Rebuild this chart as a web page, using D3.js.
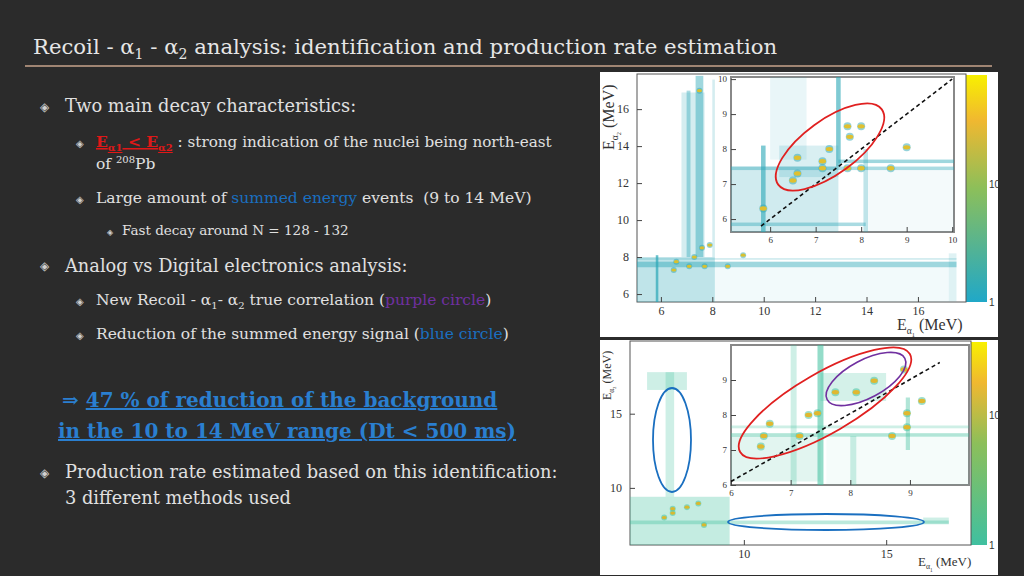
<!DOCTYPE html>
<html><head><meta charset="utf-8">
<script src="https://cdn.jsdelivr.net/npm/d3@7/dist/d3.min.js"></script>
<style>body{margin:0;background:#2a2a2a;}svg{display:block;}</style>
</head><body><svg id="c" width="1024" height="576"></svg>
<script>
// ---- data ----
var topTicksX = [6, 8, 10, 12, 14, 16];
var topTicksY = [6, 8, 10, 12, 14, 16];
var topInsetTicksX = [6, 7, 8, 9, 10];
var topInsetTicksY = [6, 7, 8, 9, 10];
var botTicksX = [10, 15];
var botTicksY = [10, 15];
var botInsetTicksX = [6, 7, 8, 9];
var botInsetTicksY = [6, 7, 8, 9];
var colorbarLabels = [1, 10];

// bands: [x1, x2, y1, y2, density]
var topBands = [[5.07,8.1,5.57,8.0,0.3],[6.8,7.7,8,16.9,0.2],[7.35,7.65,8,17.8,0.45],[7.0,7.15,8,17,0.4],
  [5.07,17.5,7.45,7.75,0.45],[5.07,17.5,7.85,7.95,0.2],[5.8,5.9,5.57,8.1,0.7],[8.0,8.1,8,17.6,0.2],[17.2,17.5,5.6,8.2,0.15],
  [8.1,17.2,5.57,7.45,0.06]];
var topSpots = [[6.6,7.75],[7.3,8.0],[7.6,8.5],[7.9,8.65],[6.5,7.3],[7.1,7.5],[7.7,7.5],[7.5,17.0],[8.6,7.5],[9.2,8.1]];
var topInsetBands = [[5.14,7.5,5.63,7.5,0.22],[7.45,7.55,7.5,10.06,0.6],[5.8,5.9,5.63,8.1,0.6],[6.2,7.5,7.2,8.1,0.18],
  [7.5,10.04,7.6,7.7,0.45],[5.14,10.04,7.4,7.5,0.4],[8.05,8.15,5.63,8,0.3],[5.14,8.1,5.8,5.9,0.4],[6.0,6.8,7.7,10.06,0.1],
  [8.15,10.04,5.63,7.4,0.05]];
var topInsetSpots = [[7.7,8.65],[8.0,8.65],[7.75,8.35],[7.3,8.0],[6.6,7.75],[7.15,7.65],[6.6,7.3],[6.5,7.1],
  [7.15,7.45],[7.7,7.45],[8.0,7.45],[8.65,7.45],[9.0,8.05],[5.85,6.3]];
var botBands = [[6.0,9.5,6.15,9.4,0.3],[7.25,7.55,9.4,17.8,0.25],[6.6,8.0,16.6,17.8,0.25],[6.0,17.2,7.55,7.8,0.35],[16.3,17.2,7.6,8.0,0.25]];
var botSpots = [[7.5,8.6],[8.0,8.7],[8.4,8.95],[7.2,8.0],[7.5,8.3],[8.6,7.5]];
var botInsetBands = [[7.45,7.55,6.0,10.0,0.55],[7.0,7.1,6,10,0.25],[6.0,9.99,7.38,7.48,0.4],[6.0,9.99,7.62,7.7,0.25],
  [8.93,9.0,7.0,8.5,0.4],[7.5,8.6,8.4,9.2,0.22],[8.0,8.1,6.0,7.4,0.25],[6.0,7.5,6.1,7.4,0.15],[7.6,9.99,6.0,7.38,0.05]];
var botInsetSpots = [[8.4,8.98],[7.75,8.65],[8.1,8.65],[7.3,8.0],[7.45,8.05],[6.65,7.75],[6.55,7.4],[7.15,7.4],
  [6.5,7.1],[8.7,7.4],[8.95,8.05],[8.95,7.65],[9.2,8.4],[8.9,9.3]];

var svg = d3.select("#c");
var serif = "'DejaVu Serif',serif";

// background
svg.append("rect").attr("width",1024).attr("height",576).attr("fill","#2b2b2b");

// title
var title = svg.append("text").attr("x",33).attr("y",54).attr("fill","#e6e6e6")
  .attr("font-family",serif).attr("font-size",21.2);
title.append("tspan").text("Recoil - α");
title.append("tspan").attr("font-size",14).attr("dy",5).text("1");
title.append("tspan").attr("dy",-5).text(" - α");
title.append("tspan").attr("font-size",14).attr("dy",5).text("2");
title.append("tspan").attr("dy",-5).text(" analysis: identification and production rate estimation");
svg.append("line").attr("x1",25).attr("x2",992).attr("y1",66).attr("y2",66).attr("stroke","#c9a58c").attr("stroke-width",1.5);

function bullet(x, y, s) {
  svg.append("text").attr("x",x).attr("y",y).attr("fill","#cfcfcf").attr("font-size",s)
    .attr("font-family","DejaVu Sans").text("◈");
}
function line(x, y, size, parts) {
  var t = svg.append("text").attr("x",x).attr("y",y).attr("font-family",serif).attr("font-size",size).attr("fill","#e0e0e0");
  parts.forEach(function(p) {
    var s = t.append("tspan").text(p.t);
    if (p.c) s.attr("fill",p.c);
    if (p.b) s.attr("font-weight","bold");
    if (p.u) s.attr("text-decoration","underline");
    if (p.dy) s.attr("dy",p.dy);
    if (p.fs) s.attr("font-size",p.fs);
  });
  return t;
}

bullet(40,111,12); line(65,112,17.8,[{t:"Two main decay characteristics:"}]);
bullet(76,147,10);
line(96,147,15.5,[{t:"E",c:"#e01818",b:1,u:1},{t:"α1",c:"#e01818",b:1,u:1,fs:10,dy:4},{t:" < E",c:"#e01818",b:1,u:1,dy:-4},
  {t:"α2",c:"#e01818",b:1,u:1,fs:10,dy:4},{t:" : strong indication of the nuclei being north-east",dy:-4,fs:15.2}]);
line(96,169,15.5,[{t:"of "},{t:"208",fs:10,dy:-6},{t:"Pb",dy:6}]);
bullet(76,203,10);
line(96,203,15.5,[{t:"Large amount of "},{t:"summed energy",c:"#1a6fc0"},{t:" events  (9 to 14 MeV)"}]).attr("xml:space","preserve");
bullet(107,235,8); line(122,235,13.5,[{t:"Fast decay around N = 128 - 132"}]);
bullet(40,270,12); line(65,272,17.8,[{t:"Analog vs Digital electronics analysis:"}]);
bullet(76,305,10);
line(96,305,15.5,[{t:"New Recoil - α"},{t:"1",fs:10,dy:4},{t:"- α",dy:-4},{t:"2",fs:10,dy:4},{t:" true correlation (",dy:-4},
  {t:"purple circle",c:"#7030a0"},{t:")"}]);
bullet(76,339,10);
line(96,339,15.5,[{t:"Reduction of the summed energy signal ("},{t:"blue circle",c:"#1a6fc0"},{t:")"}]);
line(62,407,20,[{t:"⇒ ",c:"#2a7fd0",b:1},{t:"47 % of reduction of the background",c:"#2a7fd0",b:1,u:1}]);
line(58,438,20,[{t:"in the 10 to 14 MeV range (Dt < 500 ms)",c:"#2a7fd0",b:1,u:1}]);
bullet(40,477,12); line(65,478,17.8,[{t:"Production rate estimated based on this identification:"}]);
line(65,504,17.8,[{t:"3 different methods used"}]);

// ---- histogram panels ----
function drawHist(g, cfg, bands, spots, tickX, tickY, fs, col, hot) {
  var x = d3.scaleLinear().domain(cfg.dx).range([cfg.x0, cfg.x1]);
  var y = d3.scaleLinear().domain(cfg.dy).range([cfg.y0, cfg.y1]);
  g.append("rect").attr("x",cfg.x0).attr("y",cfg.y1).attr("width",cfg.x1-cfg.x0).attr("height",cfg.y0-cfg.y1)
    .attr("fill","#fff").attr("stroke",cfg.inset?"#888":"#555").attr("stroke-width",cfg.inset?2:1);
  g.selectAll(null).data(bands).enter().append("rect")
    .attr("x",function(d){return x(d[0]);}).attr("width",function(d){return x(d[1])-x(d[0]);})
    .attr("y",function(d){return y(d[3]);}).attr("height",function(d){return y(d[2])-y(d[3]);})
    .attr("fill",col).attr("opacity",function(d){return d[4];});
  g.selectAll(null).data(spots).enter().append("circle")
    .attr("cx",function(d){return x(d[0]);}).attr("cy",function(d){return y(d[1]);})
    .attr("r",cfg.inset?4:3).attr("fill",col).attr("opacity",0.5);
  g.selectAll(null).data(spots).enter().append("ellipse")
    .attr("cx",function(d){return x(d[0]);}).attr("cy",function(d){return y(d[1]);})
    .attr("rx",cfg.inset?3.5:2.5).attr("ry",cfg.inset?2.2:1.6).attr("fill",hot);
  var ax = g.append("g").attr("transform","translate(0,"+cfg.y0+")")
    .call(d3.axisBottom(x).tickValues(tickX).tickSize(-5).tickPadding(cfg.inset?5:4).tickFormat(d3.format("d")));
  var ay = g.append("g").attr("transform","translate("+cfg.x0+",0)")
    .call(d3.axisLeft(y).tickValues(tickY).tickSize(-5).tickPadding(cfg.inset?4:8).tickFormat(d3.format("d")));
  [ax, ay].forEach(function(a){
    a.select(".domain").remove();
    a.selectAll("line").attr("stroke","#444");
    a.selectAll("text").attr("font-family","'Liberation Serif',serif").attr("font-size",fs).attr("fill","#333");
  });
  return {x:x, y:y};
}

function drawColorbar(g, x0, x1, yTop, yBot, yTen, c0, c1) {
  var id = "cb" + x0 + yTop;
  var grad = svg.append("defs").append("linearGradient").attr("id",id).attr("x1",0).attr("x2",0).attr("y1",1).attr("y2",0);
  grad.append("stop").attr("offset",0).attr("stop-color",c0);
  grad.append("stop").attr("offset",0.5).attr("stop-color","#8cbf5a");
  grad.append("stop").attr("offset",0.8).attr("stop-color","#f0b830");
  grad.append("stop").attr("offset",1).attr("stop-color",c1);
  g.append("rect").attr("x",x0).attr("y",yTop).attr("width",x1-x0).attr("height",yBot-yTop).attr("fill","url(#"+id+")");
  var cs = d3.scaleLog().domain([1,10]).range([yBot, yTen]);
  g.selectAll(null).data(colorbarLabels).enter().append("text")
    .attr("x",x1+2).attr("y",function(d){return cs(d)+4;}).attr("font-family","Liberation Sans").attr("font-size",10)
    .attr("fill","#333").text(function(d){return d;});
}

function axisLabel(g, x, y, sub, rot, size) {
  var t = g.append("text").attr("font-family","'Liberation Serif',serif").attr("font-size",size).attr("fill","#333")
    .attr("transform","translate("+x+","+y+")"+(rot?" rotate(-90)":""));
  t.append("tspan").text("E");
  t.append("tspan").attr("font-size",size*0.6).attr("dy",size*0.25).text("α");
  t.append("tspan").attr("font-size",size*0.4).attr("dy",size*0.2).text(sub);
  t.append("tspan").attr("dy",-size*0.45).text(" (MeV)");
}

// top panel
var gt = svg.append("g");
gt.append("rect").attr("x",600).attr("y",72).attr("width",398).attr("height",265).attr("fill","#fff");
drawColorbar(gt, 966, 987, 75, 302, 184, "#20a8c8", "#f8f000");
drawHist(gt, {x0:637,x1:966,y0:302,y1:74,dx:[5.07,17.87],dy:[5.57,17.9]}, topBands, topSpots, topTicksX, topTicksY, 12, "#2aa6b6", "#d8c030");
var ti = drawHist(gt, {x0:731,x1:954,y0:232,y1:77,dx:[5.14,10.04],dy:[5.63,10.06],inset:1}, topInsetBands, topInsetSpots, topInsetTicksX, topInsetTicksY, 9, "#2aa6b6", "#e0c030");
gt.append("line").attr("x1",ti.x(5.8)).attr("y1",ti.y(5.8)).attr("x2",ti.x(10)).attr("y2",ti.y(10))
  .attr("stroke","#111").attr("stroke-width",1.6).attr("stroke-dasharray","4,3");
gt.append("ellipse").attr("transform","translate(830,147) rotate(-36)").attr("rx",64).attr("ry",27)
  .attr("fill","none").attr("stroke","#e02020").attr("stroke-width",1.8);
axisLabel(gt, 614, 150, "2", true, 16);
axisLabel(gt, 897, 330, "1", false, 16);

// bottom panel
var gb = svg.append("g");
gb.append("rect").attr("x",600).attr("y",340).attr("width",398).attr("height",235).attr("fill","#fff");
drawColorbar(gb, 971, 987, 342, 545, 415, "#40c0a0", "#f8f000");
drawHist(gb, {x0:630,x1:971,y0:545,y1:341,dx:[6.0,17.98],dy:[6.15,19.9]}, botBands, botSpots, botTicksX, botTicksY, 12, "#3cbf9c", "#d8b830");
var bi = drawHist(gb, {x0:731,x1:969,y0:485,y1:345,dx:[6.0,9.99],dy:[6.0,10.0],inset:1}, botInsetBands, botInsetSpots, botInsetTicksX, botInsetTicksY, 9, "#3cbf9c", "#e0b830");
gb.append("line").attr("x1",bi.x(6.0)).attr("y1",bi.y(6.1)).attr("x2",bi.x(9.5)).attr("y2",bi.y(9.5))
  .attr("stroke","#111").attr("stroke-width",1.6).attr("stroke-dasharray","4,3");
gb.append("ellipse").attr("transform","translate(825,403) rotate(-30)").attr("rx",98).attr("ry",30)
  .attr("fill","none").attr("stroke","#e02020").attr("stroke-width",1.8);
gb.append("ellipse").attr("transform","translate(866,379) rotate(-28)").attr("rx",44).attr("ry",19)
  .attr("fill","none").attr("stroke","#7030a0").attr("stroke-width",1.6);
gb.append("ellipse").attr("cx",672).attr("cy",440).attr("rx",19).attr("ry",52)
  .attr("fill","none").attr("stroke","#1a6fc0").attr("stroke-width",1.8);
gb.append("ellipse").attr("cx",826).attr("cy",522).attr("rx",98).attr("ry",8)
  .attr("fill","none").attr("stroke","#1a6fc0").attr("stroke-width",1.8);
axisLabel(gb, 611, 400, "2", true, 12);
axisLabel(gb, 918, 566, "1", false, 13);
</script></body></html>
